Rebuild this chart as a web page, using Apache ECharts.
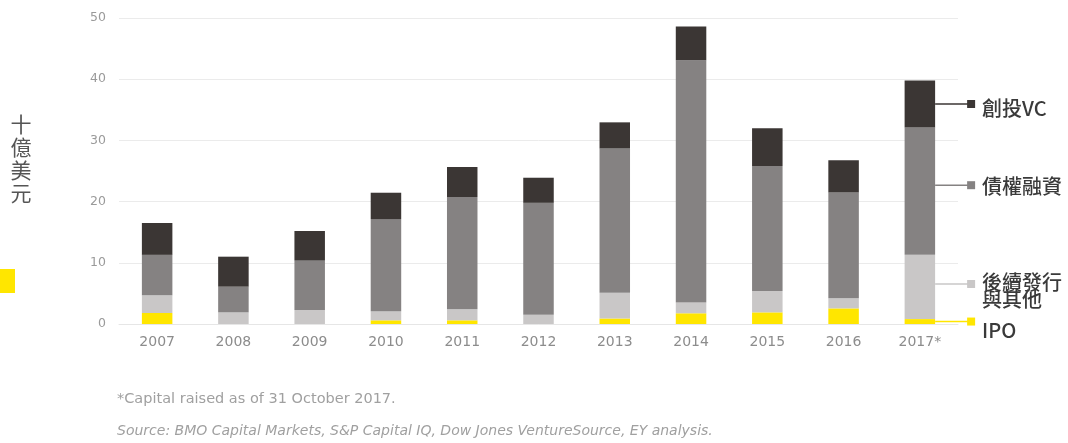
<!DOCTYPE html>
<html><head><meta charset="utf-8">
<script src="https://cdn.jsdelivr.net/npm/echarts@6/dist/echarts.min.js"></script>
<style>html,body{margin:0;padding:0;background:#fff}#c{width:1068px;height:443px}</style>
</head><body><div id="c"></div>
<script>
// ---- data ----
const years = ['2007','2008','2009','2010','2011','2012','2013','2014','2015','2016','2017*'];
const ipo      = [1.8, 0,   0,   0.6,  0.6,  0,    0.9,  1.75, 1.9,  2.55, 0.8];
const followOn = [2.9, 1.9, 2.3, 1.5,  1.8,  1.5,  4.2,  1.75, 3.5,  1.65, 10.5];
const debt     = [6.6, 4.2, 8.05,15.05,18.35,18.3, 23.6, 39.6, 20.4, 17.3, 20.8];
const vc       = [5.2, 4.9, 4.85,4.3,  4.9,  4.1,  4.25, 5.5,  6.2,  5.25, 7.7];
const seriesNames = ['IPO', '後續發行\n與其他', '債權融資', '創投VC'];
const yTicks = [0, 10, 20, 30, 40, 50];
const yTitle = '十\n億\n美\n元';
const note1 = '*Capital raised as of 31 October 2017.';
const note2 = 'Source: BMO Capital Markets, S&P Capital IQ, Dow Jones VentureSource, EY analysis.';

// ---- styles ----
const colors = ['#ffe600', '#c9c7c7', '#858282', '#3b3634'];
const seriesData = [ipo, followOn, debt, vc];

const chart = echarts.init(document.getElementById('c'), null, {renderer: 'canvas'});
const option = {
  animation: false,
  backgroundColor: '#ffffff',
  grid: {left: 119, right: 110, top: 18, bottom: 119, containLabel: false},
  xAxis: {
    type: 'category', data: years,
    axisLine: {show: true, lineStyle: {color: '#e6e6e6', width: 1}},
    axisTick: {show: false},
    axisLabel: {color: '#8c8c8c', fontSize: 14, fontFamily: 'DejaVu Sans', margin: 11}
  },
  yAxis: {
    type: 'value', min: yTicks[0], max: yTicks[yTicks.length - 1], interval: 10,
    axisLine: {show: false}, axisTick: {show: false},
    splitLine: {lineStyle: {color: '#ebebeb', width: 1}},
    axisLabel: {color: '#9a9a9a', fontSize: 12.5, fontFamily: 'DejaVu Sans', margin: 13}
  },
  series: seriesData.map((d, i) => ({
    name: seriesNames[i].replace('\n', ''), type: 'bar', stack: 'total', data: d,
    barWidth: '40%', itemStyle: {color: colors[i]}
  }))
};
chart.setOption(option);

// ---- legend labels anchored to the last bar via the chart's own scales ----
const last = years.length - 1;
const p0 = chart.convertToPixel({seriesIndex: 0}, [0, 0]);
const p1 = chart.convertToPixel({seriesIndex: 0}, [1, 0]);
const band = p1[0] - p0[0];
const lastX = chart.convertToPixel({seriesIndex: 0}, [last, 0])[0];
const barRight = lastX + band * 0.2;
const markerX = barRight + 36;
const textX = barRight + 47;
const lineDy = [0, -3, -6, 0];     // leader line nudges
const textDy = [9, -2, 1, 4];      // first text line centre offset from leader line
const linePitch = 17;
const graphics = [];
let base = 0;
seriesData.forEach((d, i) => {
  const v = d[last];
  const mid = base + v / 2;
  base += v;
  const y = chart.convertToPixel({seriesIndex: i}, [last, mid])[1] + lineDy[i];
  graphics.push({type: 'line', shape: {x1: barRight, y1: y, x2: markerX, y2: y},
    style: {stroke: colors[i], lineWidth: 1.5}, z: 10});
  graphics.push({type: 'rect', shape: {x: markerX - 4, y: y - 4, width: 8, height: 8},
    style: {fill: colors[i]}, z: 10});
  seriesNames[i].split('\n').forEach((t, k) => {
    graphics.push({type: 'text', x: textX, y: y + textDy[i] + k * linePitch, z: 10,
      style: {text: t, fill: '#3a3a3a', fontSize: 20, fontWeight: 500,
        fontFamily: 'Noto Sans CJK TC', align: 'left', verticalAlign: 'middle'}});
  });
});
// y-axis title & yellow block
graphics.push({type: 'text', x: 21, y: 113, style: {text: yTitle, fill: '#555555', fontSize: 21,
  fontFamily: 'Noto Sans CJK TC', align: 'center', verticalAlign: 'top', lineHeight: 23}});
graphics.push({type: 'rect', shape: {x: 0, y: 269, width: 15, height: 24}, style: {fill: '#ffe600'}});
// footnotes
graphics.push({type: 'text', x: 117, y: 399, style: {text: note1, fill: '#a0a0a0', fontSize: 14.5,
  fontFamily: 'DejaVu Sans', align: 'left', verticalAlign: 'middle'}});
graphics.push({type: 'text', x: 117, y: 431, style: {text: note2, fill: '#a0a0a0', fontSize: 14,
  fontStyle: 'italic', fontFamily: 'DejaVu Sans', align: 'left', verticalAlign: 'middle'}});
chart.setOption({graphic: graphics});
</script>
</body></html>
